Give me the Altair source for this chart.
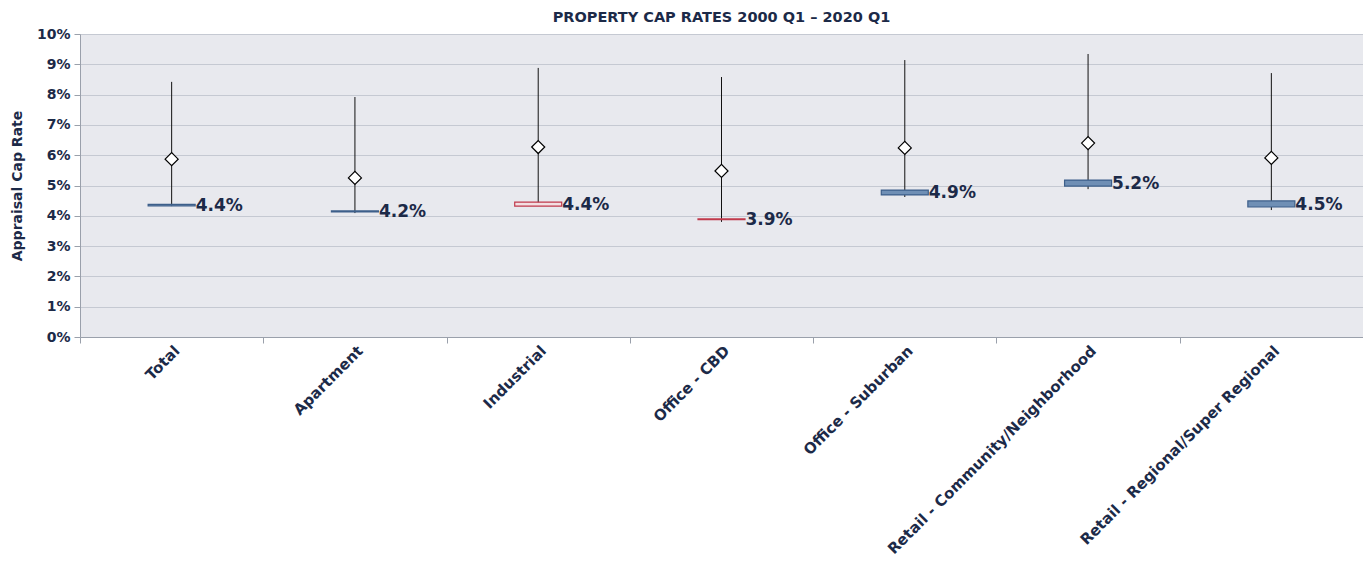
import altair as alt
import pandas as pd

categories = ["Total", "Apartment", "Industrial", "Office - CBD", "Office - Suburban",
              "Retail - Community/Neighborhood", "Retail - Regional/Super Regional"]
high = [8.42, 7.92, 8.88, 8.58, 9.14, 9.34, 8.71]
low = [4.32, 4.09, 4.42, 3.80, 4.62, 4.88, 4.19]
average = [5.87, 5.25, 6.27, 5.48, 6.24, 6.40, 5.91]
box_a = [4.33, 4.13, 4.32, 3.87, 4.69, 4.98, 4.29]
box_b = [4.38, 4.16, 4.45, 3.90, 4.85, 5.18, 4.49]
direction = ["down", "down", "up", "up", "down", "down", "down"]
current_label = ["4.4%", "4.2%", "4.4%", "3.9%", "4.9%", "5.2%", "4.5%"]
y_ticks = [0, 1, 2, 3, 4, 5, 6, 7, 8, 9, 10]

df = pd.DataFrame({
    "cat": categories,
    "high": high,
    "low": low,
    "avg": average,
    "b1": box_a,
    "b2": box_b,
    "mid": [(a + b) / 2 for a, b in zip(box_a, box_b)],
    "dir": direction,
    "label": current_label,
})

navy = "#1c2a48"
font = "DejaVu Sans"

x = alt.X("cat:N", sort=categories, title=None,
          scale=alt.Scale(paddingInner=0, paddingOuter=0),
          axis=alt.Axis(labelAngle=-45, labelAlign="right", labelBaseline="top",
                        labelFont=font, labelFontSize=15, labelFontWeight="bold",
                        labelColor=navy, tickBand="extent", tickSize=6,
                        tickColor="#9aa0ab", domainColor="#9aa0ab", labelPadding=0,
                        grid=False, labelLimit=400))

yscale = alt.Scale(domain=[0, 10], nice=False)
yaxis = alt.Axis(values=y_ticks, labelExpr="datum.value + '%'", labelOverlap=False,
                 title="Appraisal Cap Rate", titleFont=font, titleFontSize=14,
                 titleFontWeight="bold", titleColor=navy, titlePadding=12,
                 labelFont=font, labelFontSize=14, labelFontWeight="bold",
                 labelColor=navy, tickColor="#9aa0ab", domainColor="#9aa0ab",
                 gridColor="#c5c9d2", tickSize=6, labelPadding=4)

base = alt.Chart(df)

whisker = base.mark_rule(color="#111111", strokeWidth=1).encode(
    x=x, y=alt.Y("low:Q", scale=yscale, axis=yaxis), y2="high:Q")

box = base.mark_bar(size=47, strokeWidth=1.2).encode(
    x=x, y=alt.Y("b1:Q", scale=yscale, axis=yaxis), y2="b2:Q",
    color=alt.Color("dir:N", scale=alt.Scale(domain=["down", "up"], range=["#6f8fb5", "#f3dfe2"]), legend=None),
    stroke=alt.Stroke("dir:N", scale=alt.Scale(domain=["down", "up"], range=["#3d5f8a", "#c0394b"]), legend=None),
)

diamond = base.mark_point(shape="diamond", size=170, filled=True, fill="white",
                          stroke="black", strokeWidth=1.2, opacity=1).encode(
    x=x, y=alt.Y("avg:Q", scale=yscale, axis=yaxis))

labels = base.mark_text(align="left", baseline="middle", xOffset=24, dy=1,
                        font=font, fontSize=17, fontWeight="bold", color=navy).encode(
    x=x, y=alt.Y("mid:Q", scale=yscale, axis=yaxis), text="label:N")

chart = alt.layer(whisker, box, diamond, labels).properties(
    width=1283, height=303,
    title=alt.TitleParams("PROPERTY CAP RATES 2000 Q1 \u2013 2020 Q1", font=font,
                          fontSize=14.5, fontWeight="bold", color=navy, offset=2),
    autosize=alt.AutoSizeParams(type="none"),
    padding={"left": 72, "top": 26, "right": 0, "bottom": 222},
).configure_view(fill="#e8e9ee", stroke=None)

chart.save("out.html", embed_options={"renderer": "svg", "actions": False})
